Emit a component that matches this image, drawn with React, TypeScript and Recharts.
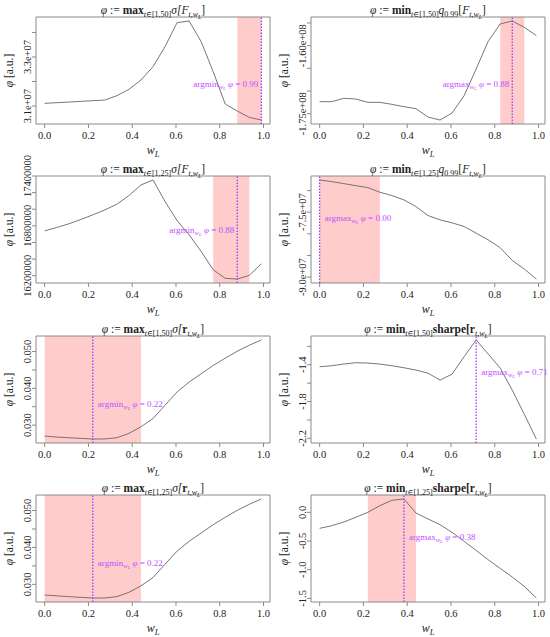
import React from 'react'
import { LineChart, Line, XAxis, YAxis, ReferenceArea, ReferenceLine } from 'recharts'

const FONT = '"Liberation Serif", "DejaVu Serif", serif'
const INK = '#222'
const FRAME = '#8a8a8a'
const CURVE = '#666'
const MARK = '#9b30ff'
const NOTE = '#c34dff'
const SHADE = '#ffcccc'

// long-weight grid
const wL = [0, 0.055, 0.11, 0.165, 0.22, 0.275, 0.33, 0.385, 0.44, 0.495, 0.55, 0.605, 0.66, 0.715, 0.77, 0.825, 0.88, 0.935, 0.99]
const xTicks = [0, 0.2, 0.4, 0.6, 0.8, 1.0]

const sigmaF50 = [31109000, 31136000, 31163000, 31190000, 31218000, 31245000, 31422000, 31680000, 32061000, 32605000, 33422000, 34401000, 34469000, 33626000, 32401000, 31082000, 30796000, 30537000, 30429000]
const q99F50 = [-172350000, -172350000, -171620000, -171760000, -172500000, -172500000, -172940000, -173460000, -173900000, -175740000, -176400000, -174850000, -171030000, -165150000, -159040000, -155220000, -154560000, -155960000, -157790000]
const sigmaF25 = [16740000, 16780000, 16824000, 16876000, 16932000, 16992000, 17060000, 17164000, 17292000, 17352000, 17092000, 16864000, 16692000, 16492000, 16272000, 16168000, 16160000, 16204000, 16344000]
const q99F25 = [-67540000, -67920000, -68380000, -68850000, -69310000, -70380000, -71150000, -72150000, -73690000, -75770000, -76770000, -77460000, -78310000, -79850000, -81380000, -83230000, -86150000, -88150000, -90460000]
const sigmaR50 = [0.02703, 0.02676, 0.02658, 0.0264, 0.02622, 0.02625, 0.02658, 0.02775, 0.02955, 0.0318, 0.03541, 0.03901, 0.04171, 0.04396, 0.04622, 0.0482, 0.05009, 0.05171, 0.05315]
const sharpe50 = [-1.4218, -1.4109, -1.3927, -1.3782, -1.3818, -1.3927, -1.4109, -1.4327, -1.4582, -1.4909, -1.5673, -1.5018, -1.3127, -1.1309, -1.2836, -1.4364, -1.6764, -1.9382, -2.2073]
const sigmaR25 = [0.02712, 0.0269, 0.02668, 0.02648, 0.0263, 0.02632, 0.02668, 0.02785, 0.0296, 0.03185, 0.03545, 0.039, 0.04165, 0.0439, 0.04615, 0.04815, 0.05005, 0.05168, 0.05312]
const sharpe25 = [-0.279, -0.233, -0.169, -0.087, 0.0, 0.116, 0.209, 0.233, -0.012, -0.116, -0.215, -0.349, -0.506, -0.663, -0.826, -0.977, -1.128, -1.291, -1.494]

const ticksSigmaF50 = [31000000, 32000000, 33000000, 34000000]
const labelsSigmaF50 = ['3.1e+07', '', '3.3e+07', '']
const ticksQ99F50 = [-175000000, -170000000, -165000000, -160000000, -155000000]
const labelsQ99F50 = ['-1.75e+08', '', '', '-1.60e+08', '']
const ticksSigmaF25 = [16200000, 16400000, 16600000, 16800000, 17000000, 17200000, 17400000]
const labelsSigmaF25 = ['16200000', '', '', '16800000', '', '', '17400000']
const ticksQ99F25 = [-90000000, -85000000, -80000000, -75000000, -70000000]
const labelsQ99F25 = ['-9.0e+07', '', '', '-7.5e+07', '']
const ticksSigmaR = [0.03, 0.035, 0.04, 0.045, 0.05]
const labelsSigmaR = ['0.030', '', '0.040', '', '0.050']
const ticksSharpe50 = [-2.2, -2.0, -1.8, -1.6, -1.4, -1.2]
const labelsSharpe50 = ['-2.2', '', '-1.8', '', '-1.4', '']
const ticksSharpe25 = [-1.5, -1.0, -0.5, 0.0]
const labelsSharpe25 = ['-1.5', '-1.0', '-0.5', '0.0']

// optimum per panel: position on the grid and its printed value
const bestW = [0.99, 0.88, 0.88, 0.0, 0.22, 0.715, 0.22, 0.385]
const bestText = ['0.99', '0.88', '0.88', '0.00', '0.22', '0.71', '0.22', '0.38']

// chart geometry
const W = 275
const H = 159
const Y_W = 36
const X_H = 35
const TOP = 17
const RIGHT = 5
const BOX_CX = Y_W + (W - Y_W - RIGHT) / 2
const X_DOMAIN = [-0.0396, 1.0296]

function Title({ op, range, fn, arg }) {
  const sub = 8
  return (
    <text x={BOX_CX} y={14} textAnchor="middle" fontSize={11.5} fill={INK} fontFamily={FONT}>
      <tspan fontStyle="italic">φ</tspan>
      <tspan> := </tspan>
      <tspan fontWeight="bold">{op}</tspan>
      <tspan fontSize={sub} dy={3} fontStyle="italic">t</tspan>
      <tspan fontSize={sub}>∈{range}</tspan>
      {fn === 'q' ? (
        <>
          <tspan dy={-3} fontStyle="italic">q</tspan>
          <tspan fontSize={sub} dy={3}>0.99</tspan>
          <tspan dy={-3}>[</tspan>
        </>
      ) : fn === 'sharpe' ? (
        <tspan dy={-3} fontWeight="bold">sharpe[</tspan>
      ) : (
        <tspan dy={-3} fontStyle="italic">σ[</tspan>
      )}
      {arg === 'F' ? <tspan fontStyle="italic">F</tspan> : <tspan fontWeight="bold">r</tspan>}
      <tspan fontSize={sub} dy={3} fontStyle="italic">t,w</tspan>
      <tspan fontSize={6} dy={1.5} fontStyle="italic">L</tspan>
      <tspan dy={-4.5}>]</tspan>
    </text>
  )
}

function Panel({ spec, left, top }) {
  const data = wL.map((w, i) => ({ w, v: spec.values[i] }))
  const lo = Math.min(...spec.values)
  const hi = Math.max(...spec.values)
  const pad = (hi - lo) * 0.04
  const yDomain = [lo - pad, hi + pad]

  const yTick = (props) => {
    const { y, payload } = props
    const label = spec.labels[spec.ticks.indexOf(payload.value)]
    if (!label) return <g />
    return (
      <text x={31} y={y} transform={`rotate(-90, 31, ${y})`} textAnchor="middle" fontSize={10.5} fill={INK} fontFamily={FONT}>
        {label}
      </text>
    )
  }
  const xTick = (props) => {
    const { x, y, payload } = props
    return (
      <text x={x} y={y + 9} textAnchor="middle" fontSize={10.5} fill={INK} fontFamily={FONT}>
        {payload.value.toFixed(1)}
      </text>
    )
  }
  const note = (props) => {
    const vb = props.viewBox || {}
    const lx = vb.x ?? 0
    const ly = (vb.y ?? 0) + spec.noteAt * (vb.height ?? 0) + 3
    const right = spec.best > 0.75
    return (
      <text x={right ? lx - 3 : lx + 5} y={ly} textAnchor={right ? 'end' : 'start'} fontSize={9} fill={NOTE} fontFamily={FONT}>
        <tspan>{spec.kind}</tspan>
        <tspan fontSize={6.5} dy={2} fontStyle="italic">w</tspan>
        <tspan fontSize={5} dy={1} fontStyle="italic">L</tspan>
        <tspan dy={-3} fontStyle="italic"> φ</tspan>
        <tspan> = {spec.bestText}</tspan>
      </text>
    )
  }

  return (
    <div style={{ position: 'absolute', left, top, width: W, height: H }}>
      <LineChart width={W} height={H} data={data} margin={{ top: TOP, right: RIGHT, bottom: 0, left: 0 }}>
        <XAxis
          dataKey="w"
          type="number"
          domain={X_DOMAIN}
          allowDataOverflow
          ticks={xTicks}
          interval={0}
          height={X_H}
          tickSize={4}
          axisLine={false}
          tickLine={{ stroke: FRAME }}
          tick={xTick}
        />
        <YAxis
          type="number"
          domain={yDomain}
          allowDataOverflow
          ticks={spec.ticks}
          interval={0}
          width={Y_W}
          tickSize={4}
          axisLine={false}
          tickLine={{ stroke: FRAME }}
          tick={yTick}
        />
        {spec.band && (
          <ReferenceArea x1={spec.band[0]} x2={spec.band[1]} fill={SHADE} fillOpacity={1} stroke="none" ifOverflow="visible" />
        )}
        <Line type="linear" dataKey="v" stroke={CURVE} strokeWidth={0.9} dot={false} isAnimationActive={false} />
        <ReferenceLine x={spec.best} stroke={MARK} strokeWidth={1.2} strokeDasharray="1.5 1.5" label={note} />
        <ReferenceArea
          x1={X_DOMAIN[0]}
          x2={X_DOMAIN[1]}
          y1={yDomain[0]}
          y2={yDomain[1]}
          fill="none"
          stroke={FRAME}
          strokeWidth={1}
          ifOverflow="visible"
        />
      </LineChart>
      <svg width={W} height={H} style={{ position: 'absolute', left: 0, top: 0, pointerEvents: 'none' }}>
        <Title op={spec.op} range={spec.range} fn={spec.fn} arg={spec.arg} />
        <text x={13} y={TOP + 53.5} transform={`rotate(-90, 13, ${TOP + 53.5})`} textAnchor="middle" fontSize={11.5} fill={INK} fontFamily={FONT}>
          <tspan fontStyle="italic">φ</tspan>
          <tspan> [a.u.]</tspan>
        </text>
        <text x={BOX_CX} y={154} textAnchor="middle" fontSize={12} fill={INK} fontFamily={FONT}>
          <tspan fontStyle="italic">w</tspan>
          <tspan fontSize={8.5} dy={2.5} fontStyle="italic">L</tspan>
        </text>
      </svg>
    </div>
  )
}

const specs = [
  { values: sigmaF50, ticks: ticksSigmaF50, labels: labelsSigmaF50, op: 'max', range: '[1,50]', fn: 'sigma', arg: 'F', kind: 'argmin', band: [0.88, 0.99], noteAt: 0.63 },
  { values: q99F50, ticks: ticksQ99F50, labels: labelsQ99F50, op: 'min', range: '[1,50]', fn: 'q', arg: 'F', kind: 'argmax', band: [0.825, 0.935], noteAt: 0.63 },
  { values: sigmaF25, ticks: ticksSigmaF25, labels: labelsSigmaF25, op: 'max', range: '[1,25]', fn: 'sigma', arg: 'F', kind: 'argmin', band: [0.77, 0.935], noteAt: 0.5 },
  { values: q99F25, ticks: ticksQ99F25, labels: labelsQ99F25, op: 'min', range: '[1,25]', fn: 'q', arg: 'F', kind: 'argmax', band: [0, 0.275], noteAt: 0.39 },
  { values: sigmaR50, ticks: ticksSigmaR, labels: labelsSigmaR, op: 'max', range: '[1,50]', fn: 'sigma', arg: 'r', kind: 'argmin', band: [0, 0.44], noteAt: 0.64 },
  { values: sharpe50, ticks: ticksSharpe50, labels: labelsSharpe50, op: 'min', range: '[1,50]', fn: 'sharpe', arg: 'r', kind: 'argmax', band: null, noteAt: 0.34 },
  { values: sigmaR25, ticks: ticksSigmaR, labels: labelsSigmaR, op: 'max', range: '[1,25]', fn: 'sigma', arg: 'r', kind: 'argmin', band: [0, 0.44], noteAt: 0.64 },
  { values: sharpe25, ticks: ticksSharpe25, labels: labelsSharpe25, op: 'min', range: '[1,25]', fn: 'sharpe', arg: 'r', kind: 'argmax', band: [0.22, 0.44], noteAt: 0.39 }
]
const panels = specs.map((s, i) => ({ ...s, best: bestW[i], bestText: bestText[i] }))

export default function App() {
  return (
    <div style={{ position: 'absolute', left: 0, top: 0, width: 550, height: 637, background: '#fff', overflow: 'hidden' }}>
      <style>{'svg.recharts-surface { overflow: visible; }'}</style>
      {panels.map((spec, i) => (
        <Panel key={i} spec={spec} left={(i % 2) * 275} top={Math.round(Math.floor(i / 2) * 159.25)} />
      ))}
    </div>
  )
}
